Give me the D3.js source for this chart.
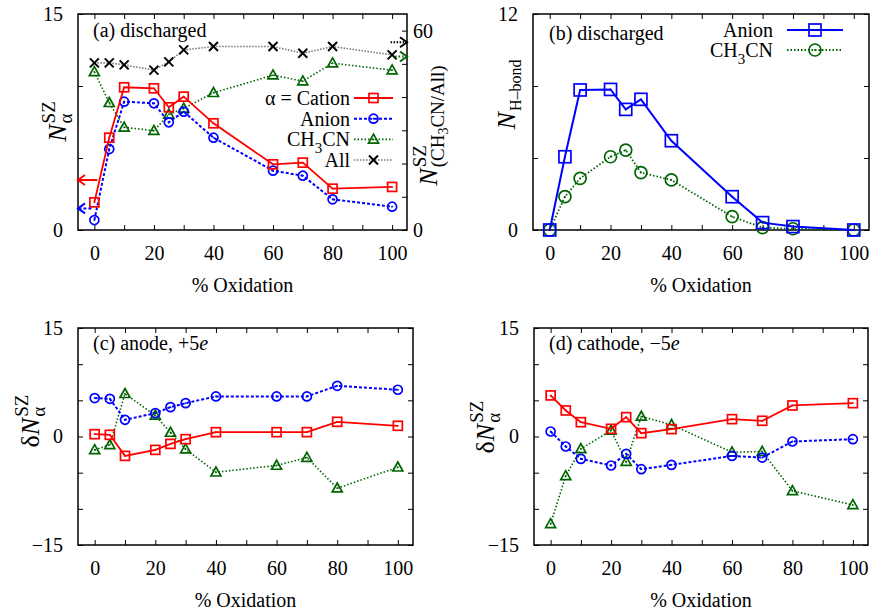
<!DOCTYPE html>
<html>
<head>
<meta charset="utf-8">
<script src="https://cdn.jsdelivr.net/npm/d3@7"></script>
<style>
body { margin: 0; background: #fff; }
svg text, svg tspan { font-family: "Liberation Serif", "Times New Roman", serif !important; fill: #000; }
</style>
</head>
<body>
<svg id="chart" width="877" height="612" font-family="Liberation Serif"></svg>
<script>
// x values shared by all panels
const oxidation = [0, 5, 10, 20, 25, 30, 40, 60, 70, 80, 100];
const xTicks = [0, 20, 40, 60, 80, 100];

// (a) discharged, left axis
const aCation  = [1.92, 6.41, 9.91, 9.84, 8.52, 9.26, 7.41, 4.56, 4.68, 2.87, 2.99];
const aAnion   = [0.69, 5.62, 8.91, 8.80, 7.48, 8.22, 6.41, 4.12, 3.77, 2.13, 1.62];
// (a) right axis
const aSolvent = [47.6, 38.3, 30.9, 29.9, 34.8, 36.6, 41.3, 46.6, 44.8, 50.2, 48.1];
const aAll     = [50.3, 50.3, 49.7, 48.1, 50.6, 54.2, 55.2, 55.2, 53.2, 55.2, 52.7];

// (b) H-bonds
const bAnion   = [0, 4.07, 7.78, 7.81, 6.70, 7.26, 4.96, 1.85, 0.41, 0.19, 0];
const bSolvent = [0, 1.85, 2.87, 4.07, 4.44, 3.19, 2.78, 0.74, 0.13, 0.07, 0];

// (c) anode +5e
const cCation  = [0.32, 0.23, -2.68, -1.85, -1.02, -0.37, 0.6, 0.6, 0.6, 2.03, 1.48];
const cAnion   = [5.31, 5.21, 2.31, 3.23, 4.06, 4.61, 5.54, 5.54, 5.54, 7.01, 6.46];
const cSolvent = [-1.85, -1.15, 5.91, 2.91, 0.55, -1.75, -4.94, -4.01, -2.91, -7.15, -4.25];

// (d) cathode -5e
const dCation  = [5.68, 3.6, 1.98, 1.06, 2.68, 0.46, 1.02, 2.4, 2.17, 4.29, 4.61];
const dAnion   = [0.69, -1.38, -3.09, -4.01, -2.4, -4.52, -3.92, -2.68, -2.91, -0.69, -0.37];
const dSolvent = [-12.09, -5.45, -1.71, 0.83, -3.46, 2.77, 1.62, -2.17, -2.08, -7.52, -9.46];

// axis arrows in panel (a): [x0, x1, y]
const arrowCation  = [1, -5.5, 3.47];
const arrowAnion   = [-1, -5.5, 1.5];
const arrowSolvent = [101, 105, 52.2];
const arrowAll     = [99.5, 105, 56.5];

const RED = "#ff0000", BLUE = "#0000ff", GREEN = "#006400", BLACK = "#000";
const FONT = "Liberation Serif";

const svg = d3.select("#chart");
const fmt = d => d < 0 ? "\u2212" + Math.abs(d) : String(d);

function makePanel(box, yDomain, opts) {
    const g = svg.append("g");
    const x = d3.scaleLinear().domain([-5.5, 105]).range([box.x0, box.x1]);
    const y = d3.scaleLinear().domain(yDomain).range([box.y1, box.y0]);

    // bottom axis
    g.append("g").attr("transform", `translate(0,${box.y1})`)
        .call(d3.axisBottom(x).tickValues(d3.range(0, 101, 10))
            .tickSizeInner(-5).tickSizeOuter(0).tickPadding(16)
            .tickFormat(d => xTicks.includes(d) ? d : ""));
    // top mirror
    g.append("g").attr("transform", `translate(0,${box.y0})`)
        .call(d3.axisTop(x).tickValues(d3.range(0, 101, 10))
            .tickSizeInner(-5).tickSizeOuter(0).tickFormat(""));
    // left axis
    g.append("g").attr("transform", `translate(${box.x0},0)`)
        .call(d3.axisLeft(y).tickValues(opts.yTicks)
            .tickSizeInner(-5).tickSizeOuter(0).tickPadding(15)
            .tickFormat(d => opts.yLabels.includes(d) ? fmt(d) : ""));
    if (opts.mirrorY) {
        g.append("g").attr("transform", `translate(${box.x1},0)`)
            .call(d3.axisRight(y).tickValues(opts.yTicks)
                .tickSizeInner(-5).tickSizeOuter(0).tickFormat(""));
    }
    g.selectAll(".domain").remove();
    g.selectAll("g").attr("font-family", FONT);
    g.selectAll(".tick line").attr("stroke", "#000").attr("stroke-width", 1);
    g.selectAll(".tick text").attr("font-size", 20);

    g.append("rect")
        .attr("x", box.x0).attr("y", box.y0)
        .attr("width", box.x1 - box.x0).attr("height", box.y1 - box.y0)
        .attr("fill", "none").attr("stroke", "#000").attr("stroke-width", 1.5);

    // x label
    g.append("text")
        .attr("x", (box.x0 + box.x1) / 2).attr("y", box.y1 + 62)
        .attr("text-anchor", "middle").attr("font-size", 20)
        .text("% Oxidation");
    return {g, x, y};
}

function marker(g, type, cx, cy, size, color) {
    const m = g.append("g").attr("transform", `translate(${cx},${cy})`);
    const h = size / 2;
    if (type === "square") {
        m.append("rect").attr("x", -h).attr("y", -h).attr("width", size).attr("height", size);
    } else if (type === "circle") {
        m.append("circle").attr("r", h);
    } else if (type === "triangle") {
        m.append("path").attr("d", `M0,${-h * 1.05}L${h},${h * 0.75}L${-h},${h * 0.75}Z`);
    } else if (type === "cross") {
        m.append("path").attr("d", `M${-h},${-h}L${h},${h}M${-h},${h}L${h},${-h}`);
    }
    m.selectAll("rect,circle,path").attr("fill", "none").attr("stroke", color)
        .attr("stroke-width", type === "cross" ? 2 : 1.7);
    if (type !== "cross") {
        m.append("circle").attr("r", 0.9).attr("fill", color);
    }
}

function series(p, yScale, values, st) {
    const line = d3.line().x((d, i) => p.x(oxidation[i])).y(d => yScale(d));
    p.g.append("path").datum(values)
        .attr("d", line).attr("fill", "none")
        .attr("stroke", st.lineColor || st.color).attr("stroke-width", st.width)
        .attr("stroke-dasharray", st.dash || null);
    values.forEach((v, i) => marker(p.g, st.type, p.x(oxidation[i]), yScale(v), st.size, st.color));
}

function legendRow(g, textX, lineX0, lineX1, cy, label, st) {
    const t = g.append("text").attr("x", textX).attr("y", cy + 7)
        .attr("text-anchor", "end").attr("font-size", 20);
    label(t);
    g.append("line").attr("x1", lineX0).attr("x2", lineX1).attr("y1", cy).attr("y2", cy)
        .attr("stroke", st.lineColor || st.color).attr("stroke-width", st.width)
        .attr("stroke-dasharray", st.dash || null);
    marker(g, st.type, (lineX0 + lineX1) / 2, cy, st.size, st.color);
}

const ch3cn = t => {
    t.append("tspan").text("CH");
    t.append("tspan").attr("dy", 7).attr("font-size", 15).text("3");
    t.append("tspan").attr("dy", -7).text("CN");
};

function arrow(g, xS, yS, a, color, dash) {
    const x0 = xS(a[0]), x1 = xS(a[1]), yy = yS(a[2]);
    const dir = Math.sign(x1 - x0);
    g.append("line").attr("x1", x0).attr("x2", x1 - dir * 1).attr("y1", yy).attr("y2", yy)
        .attr("stroke", color).attr("stroke-width", 2).attr("stroke-dasharray", dash || null);
    g.append("path")
        .attr("d", `M${x1 - dir * 7},${yy - 5}L${x1},${yy}L${x1 - dir * 7},${yy + 5}`)
        .attr("fill", "none").attr("stroke", color).attr("stroke-width", 2);
}

// rotated y label with optional stacked super/subscript
function yLabel(bx, cy, build) {
    const g = svg.append("g").attr("transform", `translate(${bx},${cy}) rotate(-90)`);
    const inner = g.append("g");
    build(inner);
    const bb = inner.node().getBBox();
    inner.attr("transform", `translate(${-bb.x - bb.width / 2},0)`);
}

function mainPart(inner, parts) {
    let w = 0;
    parts.forEach(p => {
        const t = inner.append("text").attr("x", w).attr("font-size", 26)
            .attr("font-style", p.italic ? "italic" : null).text(p.t);
        w += t.node().getComputedTextLength();
    });
    return w + 1;
}

const sCation  = {type: "square",   color: RED,   width: 1.8, size: 9};
const sAnion   = {type: "circle",   color: BLUE,  width: 2,   size: 9, dash: "3,2"};
const sSolvent = {type: "triangle", color: GREEN, width: 1.6, size: 10, dash: "1.5,2"};
const sAll     = {type: "cross",    color: BLACK, lineColor: "#777", width: 1.6, size: 9, dash: "1.5,1.5"};

// ---------- panel (a)
const pa = makePanel({x0: 78, x1: 407, y0: 14, y1: 230}, [0, 15],
    {yTicks: [0, 5, 10, 15], yLabels: [0, 15], mirrorY: false});
const y2 = d3.scaleLinear().domain([0, 65]).range([230, 14]);
pa.g.append("g").attr("transform", "translate(407,0)")
    .call(d3.axisRight(y2).tickValues(d3.range(0, 61, 10))
        .tickSizeInner(-5).tickSizeOuter(0).tickPadding(6)
        .tickFormat(d => (d === 0 || d === 60) ? d : ""))
    .attr("font-family", FONT)
    .call(s => s.select(".domain").remove())
    .call(s => s.selectAll(".tick line").attr("stroke", "#000"))
    .call(s => s.selectAll(".tick text").attr("font-size", 20));

series(pa, y2, aAll, sAll);
series(pa, y2, aSolvent, sSolvent);
series(pa, pa.y, aAnion, sAnion);
series(pa, pa.y, aCation, sCation);
arrow(pa.g, pa.x, pa.y, arrowCation, RED);
arrow(pa.g, pa.x, pa.y, arrowAnion, BLUE, "3,2");
arrow(pa.g, pa.x, y2, arrowSolvent, GREEN, "1.5,2");
arrow(pa.g, pa.x, y2, arrowAll, BLACK, "1.5,1.5");

pa.g.append("text").attr("x", 93).attr("y", 37).attr("font-size", 20).text("(a) discharged");
legendRow(pa.g, 350, 354, 393, 98, t => t.text("\u03b1 = Cation"), sCation);
legendRow(pa.g, 350, 354, 393, 118.7, t => t.text("Anion"), sAnion);
legendRow(pa.g, 350, 354, 393, 139.4, ch3cn, sSolvent);
legendRow(pa.g, 350, 354, 393, 160, t => t.text("All"), sAll);

yLabel(66, 122, inner => {
    const w = mainPart(inner, [{t: "N", italic: true}]);
    inner.append("text").attr("x", w).attr("y", -11).attr("font-size", 19).text("SZ");
    inner.append("text").attr("x", w).attr("y", 6).attr("font-size", 19).text("\u03b1");
});
yLabel(437, 126, inner => {
    const w = mainPart(inner, [{t: "N", italic: true}]);
    inner.append("text").attr("x", w).attr("y", -11).attr("font-size", 19).text("SZ");
    const t = inner.append("text").attr("x", w).attr("y", 7).attr("font-size", 19);
    t.append("tspan").text("(CH");
    t.append("tspan").attr("dy", 4).attr("font-size", 14).text("3");
    t.append("tspan").attr("dy", -4).text("CN/All)");
});

// ---------- panel (b)
const pb = makePanel({x0: 533, x1: 869, y0: 14, y1: 230}, [0, 12],
    {yTicks: [0, 4, 8, 12], yLabels: [0, 12], mirrorY: true});
const sbAnion   = {type: "square", color: BLUE,  width: 2,   size: 12};
const sbSolvent = {type: "circle", color: GREEN, width: 1.8, size: 12, dash: "1.5,2"};
series(pb, pb.y, bSolvent, sbSolvent);
series(pb, pb.y, bAnion, sbAnion);
pb.g.append("text").attr("x", 549).attr("y", 40).attr("font-size", 20).text("(b) discharged");
legendRow(pb.g, 773, 787, 843, 30, t => t.text("Anion"), sbAnion);
legendRow(pb.g, 773, 787, 843, 50, ch3cn, sbSolvent);
yLabel(515, 95, inner => {
    const w = mainPart(inner, [{t: "N", italic: true}]);
    inner.append("text").attr("x", w).attr("y", 6).attr("font-size", 16).text("H\u2013bond");
});

// ---------- panel (c)
const pc = makePanel({x0: 78, x1: 413, y0: 328, y1: 545}, [-15, 15],
    {yTicks: [-15, -10, -5, 0, 5, 10, 15], yLabels: [-15, 0, 15], mirrorY: true});
series(pc, pc.y, cSolvent, sSolvent);
series(pc, pc.y, cAnion, sAnion);
series(pc, pc.y, cCation, sCation);
const tc = pc.g.append("text").attr("x", 93).attr("y", 350).attr("font-size", 20);
tc.append("tspan").text("(c) anode, +5");
tc.append("tspan").attr("font-style", "italic").text("e");

// ---------- panel (d)
const pd = makePanel({x0: 534, x1: 868, y0: 328, y1: 545}, [-15, 15],
    {yTicks: [-15, -10, -5, 0, 5, 10, 15], yLabels: [-15, 0, 15], mirrorY: true});
series(pd, pd.y, dSolvent, sSolvent);
series(pd, pd.y, dAnion, sAnion);
series(pd, pd.y, dCation, sCation);
const td = pd.g.append("text").attr("x", 549).attr("y", 350).attr("font-size", 20);
td.append("tspan").text("(d) cathode, \u22125");
td.append("tspan").attr("font-style", "italic").text("e");

const deltaLabel = inner => {
    const w = mainPart(inner, [{t: "\u03b4"}, {t: "N", italic: true}]);
    inner.append("text").attr("x", w).attr("y", -11).attr("font-size", 19).text("SZ");
    inner.append("text").attr("x", w).attr("y", 6).attr("font-size", 19).text("\u03b1");
};
yLabel(39, 421, deltaLabel);
yLabel(494, 427, deltaLabel);
</script>
</body>
</html>
